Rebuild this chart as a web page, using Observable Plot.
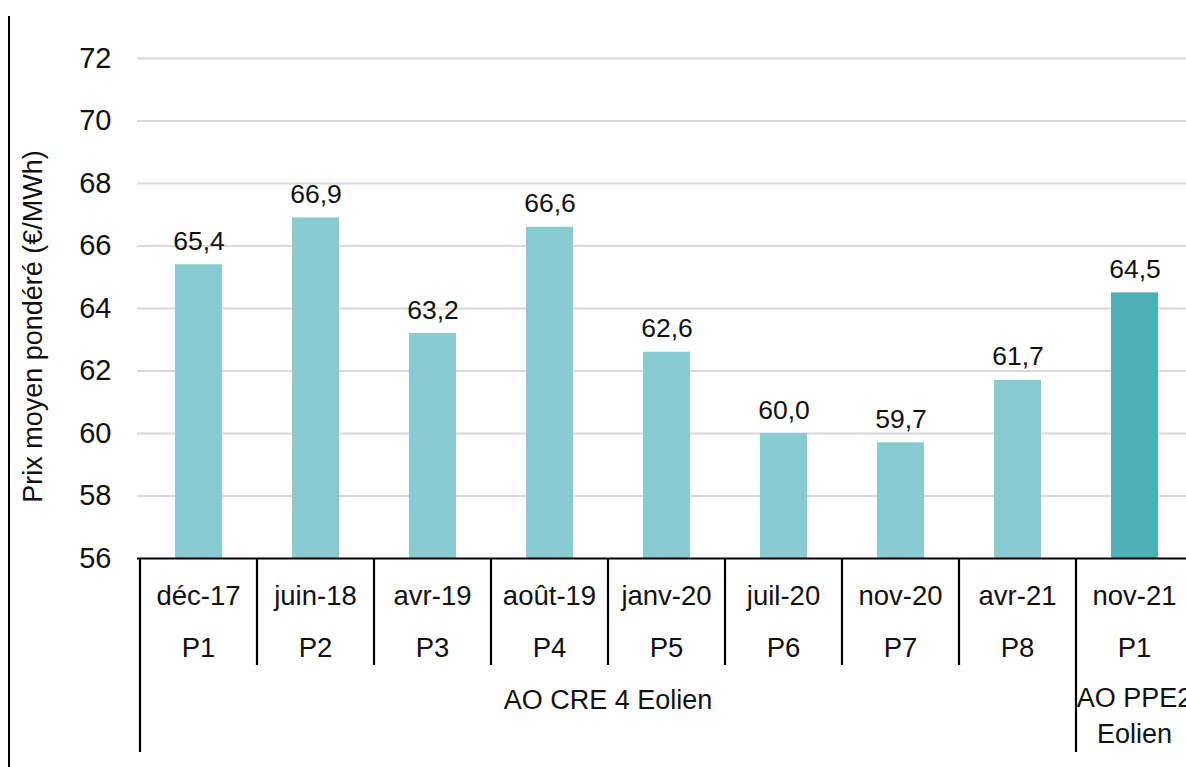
<!DOCTYPE html>
<html>
<head>
<meta charset="utf-8">
<script src="https://cdn.jsdelivr.net/npm/d3@7"></script>
<script src="https://cdn.jsdelivr.net/npm/@observablehq/plot@0.6"></script>
<style>
  html, body { margin: 0; padding: 0; background: white; overflow: hidden; }
  #wrap { position: relative; width: 1186px; height: 767px; overflow: hidden; }
  #leftline { position: absolute; left: 8px; top: 16px; width: 1.5px; height: 760px; background: #000; }
</style>
</head>
<body>
<div id="wrap"><div id="leftline"></div></div>
<script>
// ---- data ----
const dates = ["déc-17", "juin-18", "avr-19", "août-19", "janv-20", "juil-20", "nov-20", "avr-21", "nov-21"];
const periods = ["P1", "P2", "P3", "P4", "P5", "P6", "P7", "P8", "P1"];
const prices = [65.4, 66.9, 63.2, 66.6, 62.6, 60.0, 59.7, 61.7, 64.5];
const programmes = ["AO CRE 4 Eolien", "AO CRE 4 Eolien", "AO CRE 4 Eolien", "AO CRE 4 Eolien",
  "AO CRE 4 Eolien", "AO CRE 4 Eolien", "AO CRE 4 Eolien", "AO CRE 4 Eolien", "AO PPE2 Eolien"];
const programmeLines = {"AO CRE 4 Eolien": ["AO CRE 4 Eolien"], "AO PPE2 Eolien": ["AO PPE2", "Eolien"]};
const programmeColors = ["#88cbd0", "#4bb1b5"];
const yDomain = [56, 72];
const yTicks = [56, 58, 60, 62, 64, 66, 68, 70, 72];
const yLabel = "Prix moyen pondéré (€/MWh)";

const FONT = "'Liberation Sans', Arial, sans-serif";
const INK = "#111";
const rows = dates.map((d, i) => ({date: d, period: periods[i], price: prices[i], programme: programmes[i]}));
const fmt = v => d3.format(".1f")(v).replace(".", ",");

// hierarchical category axis drawn from the x band scale
function categoryAxis(index, scales) {
  const x = scales.x, y = scales.y;
  const step = x(dates[1]) - x(dates[0]);
  const y0 = y(yDomain[0]);
  const g = d3.create("svg:g")
    .attr("font-family", FONT)
    .attr("fill", INK)
    .attr("text-anchor", "middle");
  dates.forEach((d, i) => {
    const left = x(d);
    const groupStart = i === 0 || programmes[i] !== programmes[i - 1];
    g.append("line")
      .attr("x1", left).attr("x2", left)
      .attr("y1", y0).attr("y2", y0 + (groupStart ? 194 : 107))
      .attr("stroke", "#000").attr("stroke-width", 2.2);
    g.append("text").attr("x", left + step / 2).attr("y", y0 + 47)
      .attr("font-size", 27.5).text(d);
    g.append("text").attr("x", left + step / 2).attr("y", y0 + 99)
      .attr("font-size", 27.5).text(periods[i]);
  });
  // group labels
  const groups = [];
  programmes.forEach((p, i) => {
    if (i === 0 || p !== programmes[i - 1]) groups.push({name: p, first: i, last: i});
    else groups[groups.length - 1].last = i;
  });
  groups.forEach(gr => {
    const cx = (x(dates[gr.first]) + x(dates[gr.last]) + step) / 2;
    const lines = programmeLines[gr.name] || [gr.name];
    lines.forEach((ln, k) => {
      g.append("text").attr("x", cx)
        .attr("y", y0 + (lines.length > 1 ? 149 : 151) + k * 36)
        .attr("font-size", 27).text(ln);
    });
  });
  return g.node();
}

const chart = Plot.plot({
  width: 1186,
  height: 767,
  marginTop: 58,
  marginBottom: 209,
  marginLeft: 137,
  marginRight: -9,
  style: {fontFamily: FONT, fontSize: "29px", color: INK, background: "white", overflow: "hidden"},
  x: {domain: dates, padding: 0, axis: null},
  y: {domain: yDomain, ticks: yTicks, tickSize: 0, tickPadding: 26, label: null, tickFormat: d => String(d)},
  color: {domain: ["AO CRE 4 Eolien", "AO PPE2 Eolien"], range: programmeColors},
  marks: [
    Plot.ruleY(yTicks.filter(t => t > yDomain[0]), {stroke: "#d9d9d9", strokeWidth: 2}),
    Plot.barY(rows, {x: "date", y1: yDomain[0], y2: "price", fill: "programme", insetLeft: 35, insetRight: 35}),
    Plot.text(rows, {x: "date", y: "price", text: d => fmt(d.price), dy: -15, lineAnchor: "bottom", fontSize: 26.5, fill: INK}),
    Plot.ruleY([yDomain[0]], {stroke: "#000", strokeWidth: 2.2}),
    Plot.text([yLabel], {frameAnchor: "left", text: d => d, rotate: -90, textAnchor: "middle", dx: -104, dy: 18, fontSize: 27, fill: INK}),
    categoryAxis
  ]
});
document.getElementById("wrap").appendChild(chart);
</script>
</body>
</html>
